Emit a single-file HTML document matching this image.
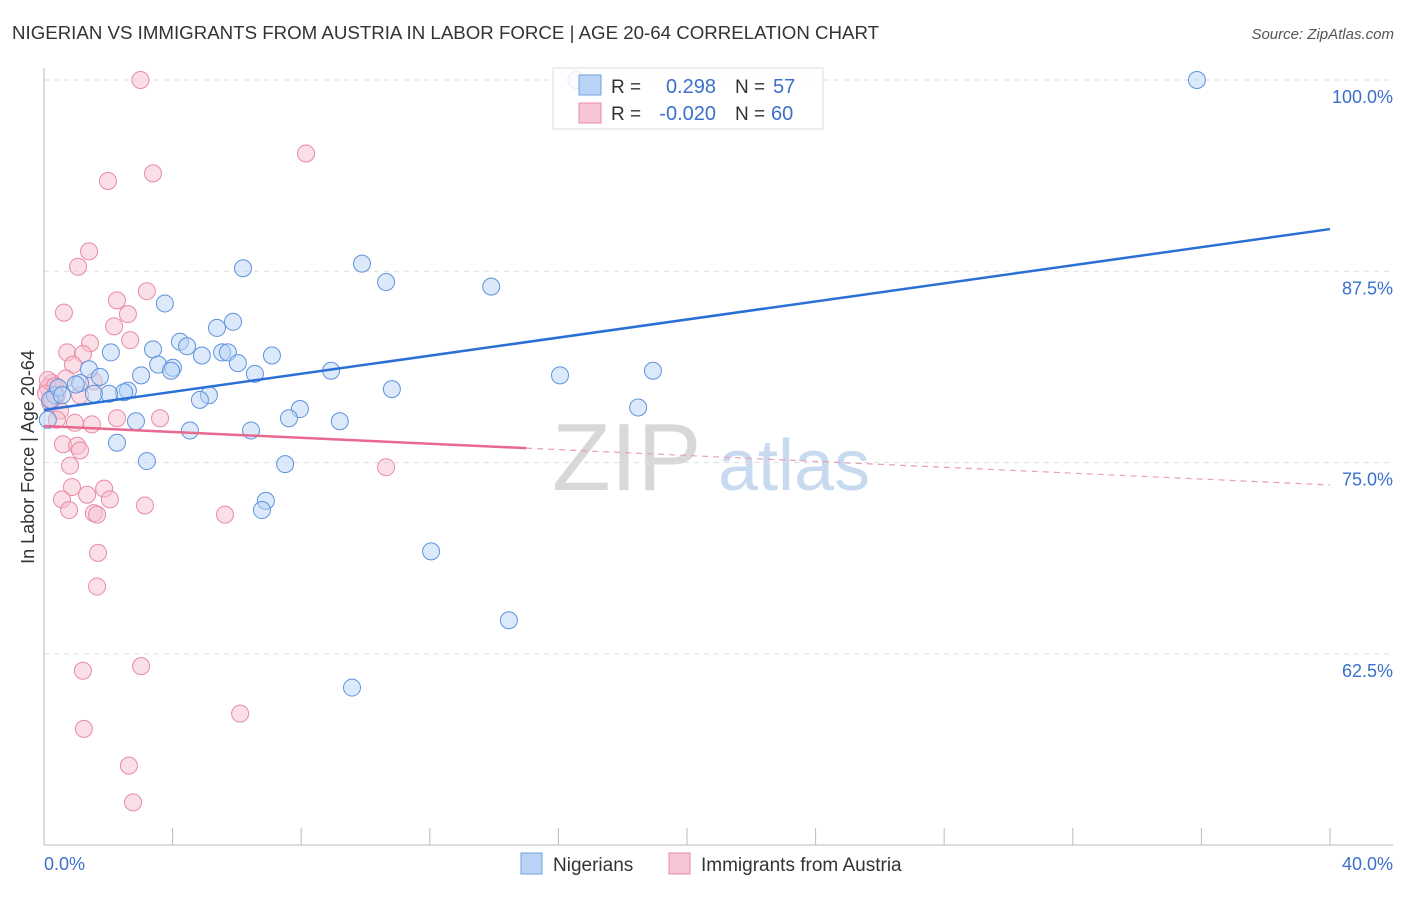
<!DOCTYPE html>
<html><head><meta charset="utf-8"><style>
body{margin:0;background:#fff;font-family:"Liberation Sans",sans-serif}
svg text{font-family:"Liberation Sans",sans-serif}
</style></head><body>
<svg id="chart" width="1406" height="892" xmlns="http://www.w3.org/2000/svg">
<text x="12" y="39" font-size="18.7" fill="#333">NIGERIAN VS IMMIGRANTS FROM AUSTRIA IN LABOR FORCE | AGE 20-64 CORRELATION CHART</text>
<text x="1394" y="39" font-size="15" fill="#555" text-anchor="end" font-style="italic">Source: ZipAtlas.com</text>
<g><text x="552" y="490" font-size="96" fill="#d8d8d8" font-family="Liberation Serif">ZIP</text><text x="718" y="490" font-size="72" fill="#c8daf0">atlas</text></g>
<g id="grid"></g>
<g id="axes"></g>
<g id="pts"></g>
<g id="trends"></g>
<text x="34" y="457" font-size="18" fill="#333" text-anchor="middle" transform="rotate(-90 34 457)">In Labor Force | Age 20-64</text>
<g>
<rect x="553" y="68" width="270" height="61" fill="#fff" fill-opacity="0.85" stroke="#ddd"/>
<rect x="579" y="75" width="22" height="20" fill="#b8d3f5" stroke="#6fa0e0"/>
<rect x="579" y="103" width="22" height="20" fill="#f8c5d4" stroke="#e88aa6"/>
<text x="611" y="93" font-size="19" fill="#333">R =</text>
<text x="716" y="93" font-size="20" fill="#3a70cc" text-anchor="end">0.298</text>
<text x="735" y="93" font-size="19" fill="#333">N =</text>
<text x="773" y="93" font-size="20" fill="#3a70cc">57</text>
<text x="611" y="120" font-size="19" fill="#333">R =</text>
<text x="716" y="120" font-size="20" fill="#3a70cc" text-anchor="end">-0.020</text>
<text x="735" y="120" font-size="19" fill="#333">N =</text>
<text x="771" y="120" font-size="20" fill="#3a70cc">60</text>
</g>
<g>
<rect x="521" y="853" width="21" height="21" fill="#b8d3f5" stroke="#6fa0e0"/>
<text x="553" y="871" font-size="19" fill="#333">Nigerians</text>
<rect x="669" y="853" width="21" height="21" fill="#f8c5d4" stroke="#e88aa6"/>
<text x="701" y="871" font-size="19" fill="#333">Immigrants from Austria</text>
</g>
</svg>
<script>
const yTicks=[100,87.5,75,62.5];
const yTickLabels=["100.0%","87.5%","75.0%","62.5%"];
const xTickLabels=["0.0%","40.0%"];
const blueX=[16.56,35.86,6.19,9.89,10.64,13.91,3.76,5.88,5.38,4.23,4.45,3.39,2.08,4.91,5.54,5.72,7.09,6.03,3.55,4.01,3.95,6.56,8.93,16.05,18.94,3.02,1.40,1.74,1.12,0.99,2.61,2.49,2.02,1.55,10.82,5.13,4.85,7.96,7.62,9.20,18.48,2.86,4.54,6.44,2.27,3.20,7.50,6.90,6.78,12.04,14.46,9.58,0.34,0.19,0.44,0.12,0.56];
const blueY=[100,100,87.7,88.0,86.8,86.5,85.4,84.2,83.8,82.9,82.6,82.4,82.2,82.0,82.2,82.2,82.0,81.5,81.4,81.2,81.0,80.8,81.0,80.7,81.0,80.7,81.1,80.6,80.2,80.1,79.7,79.6,79.5,79.5,79.8,79.4,79.1,78.5,77.9,77.7,78.6,77.7,77.1,77.1,76.3,75.1,74.9,72.5,71.9,69.2,64.7,60.3,79.4,79.1,79.9,77.8,79.4];
const pinkX=[3.00,8.15,3.39,1.99,1.40,1.06,3.20,2.27,2.61,0.62,2.18,1.43,2.68,0.72,1.21,0.90,1.55,0.68,0.25,0.12,0.40,0.19,0.50,1.12,2.27,3.61,1.49,0.96,0.40,0.59,1.03,1.12,0.81,10.64,0.87,1.87,1.34,0.56,2.05,3.14,0.78,1.55,1.65,5.63,1.68,1.65,1.21,3.02,1.24,6.10,2.64,2.77,0.12,0.34,0.06,0.25];
const pinkY=[100,95.2,93.9,93.4,88.8,87.8,86.2,85.6,84.7,84.8,83.9,82.8,83.0,82.2,82.1,81.4,80.3,80.5,80.2,79.9,79.4,78.9,78.4,79.4,77.9,77.9,77.5,77.6,77.8,76.2,76.1,75.8,74.8,74.7,73.4,73.3,72.9,72.6,72.6,72.2,71.9,71.7,71.6,71.6,69.1,66.9,61.4,61.7,57.6,58.6,55.2,52.8,80.4,80.0,79.5,79.1];
const blueTrend=[78.44,90.26];
const pinkTrend=[77.39,73.54];
const pinkSolidEnd=15.0;
const X=v=>44+v/40*1286, Y=v=>80+(100-v)/12.5*191.3;
const NS="http://www.w3.org/2000/svg";
function mk(tag,attrs,parent){const e=document.createElementNS(NS,tag);for(const k in attrs)e.setAttribute(k,attrs[k]);document.getElementById(parent).appendChild(e);return e;}
yTicks.forEach((t,i)=>{
 const g=mk('line',{x1:44,x2:1393,y1:Y(t),y2:Y(t),stroke:'#ddd','stroke-dasharray':'5,5'},'grid');
 
 
 const l=mk('text',{x:1393,y:Y(t)+23,'font-size':18,fill:'#3a70cc','text-anchor':'end'},'grid');
 l.textContent=yTickLabels[i];
 
 
});
let a=mk('line',{x1:44,x2:44,y1:68,y2:845,stroke:'#bbb'},'axes');


a=mk('line',{x1:44,x2:1393,y1:845,y2:845,stroke:'#bbb'},'axes');


for(let i=0;i<=10;i++){const t=mk('line',{x1:X(i*4),x2:X(i*4),y1:828,y2:845,stroke:'#bbb'},'axes');
 
 }
[[0,44,'start'],[40,1393,'end']].forEach((d,i)=>{const t=mk('text',{x:d[1],y:870,'font-size':18,fill:'#3a70cc','text-anchor':d[2]},'axes');t.textContent=xTickLabels[i];
 
 });
function pts(xs,ys,fill,stroke,name){xs.forEach((x,i)=>{const c=mk('circle',{cx:X(x),cy:Y(ys[i]),r:8.5,fill:fill,'fill-opacity':0.5,stroke:stroke,'stroke-width':1},'pts');
 
 });}
pts(pinkX,pinkY,'#f8c0d0','#e88aa6','point-austria');
pts(blueX,blueY,'#b8d3f5','#5f93dc','point-nigerian');
const ty=(tr,x)=>tr[0]+(tr[1]-tr[0])*x/40;
let l=mk('line',{x1:X(0),y1:Y(ty(blueTrend,0)),x2:X(40),y2:Y(ty(blueTrend,40)),stroke:'#2a6fd6','stroke-width':2.5},'trends');


l=mk('line',{x1:X(0),y1:Y(ty(pinkTrend,0)),x2:X(pinkSolidEnd),y2:Y(ty(pinkTrend,pinkSolidEnd)),stroke:'#e8688e','stroke-width':2.5},'trends');


l=mk('line',{x1:X(pinkSolidEnd),y1:Y(ty(pinkTrend,pinkSolidEnd)),x2:X(40),y2:Y(ty(pinkTrend,40)),stroke:'#e8a0b6','stroke-width':1.2,'stroke-dasharray':'6,5'},'trends');


</script>
</body></html>
